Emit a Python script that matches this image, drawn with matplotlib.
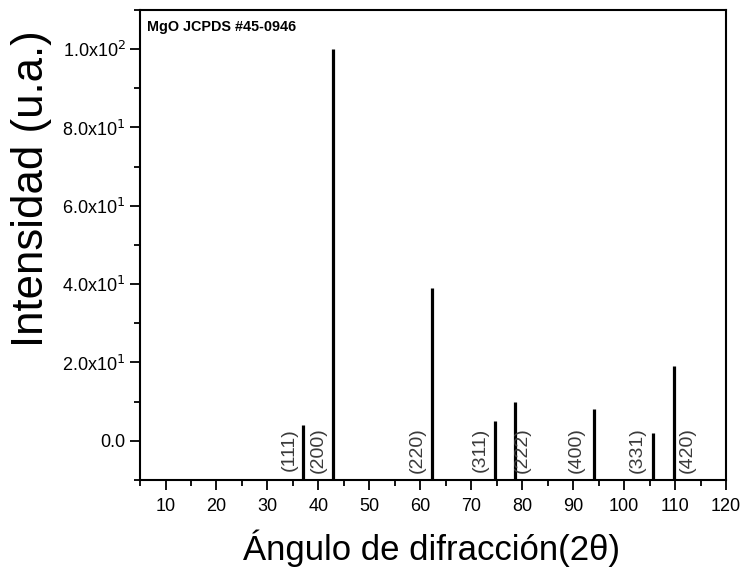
import numpy as np
import matplotlib
matplotlib.use('Agg')
import matplotlib.pyplot as plt
from matplotlib.ticker import MultipleLocator, FuncFormatter

plt.rcParams['font.family'] = ['Liberation Sans', 'DejaVu Sans']

# MgO JCPDS #45-0946 reflections
two_theta = [36.9, 42.9, 62.3, 74.7, 78.6, 94.0, 105.7, 109.8]
intensity = [4, 100, 39, 5, 10, 8, 2, 19]
hkl = ['(111)', '(200)', '(220)', '(311)', '(222)', '(400)', '(331)', '(420)']
label_x = [34.2, 40.0, 59.5, 71.7, 80.1, 90.6, 102.6, 112.3]

ymin = -10

fig = plt.figure(figsize=(7.45, 5.71), dpi=100)
ax = fig.add_axes([0.188, 0.1594, 0.7865, 0.8231])

ax.vlines(two_theta, ymin, intensity, colors='black', linewidth=2.3)
for x, lab in zip(label_x, hkl):
    ax.text(x, -2.3, lab, rotation=90, ha='center', va='center',
            fontsize=14, color='#3a3a3a')

ax.set_xlim(5, 120)
ax.set_ylim(ymin, 110)
ax.xaxis.set_major_locator(MultipleLocator(10))
ax.xaxis.set_minor_locator(MultipleLocator(5))
ax.yaxis.set_major_locator(MultipleLocator(20))
ax.yaxis.set_minor_locator(MultipleLocator(10))

def yfmt(v, pos):
    if abs(v) < 1e-9:
        return '0.0'
    e = int(np.floor(np.log10(abs(v))))
    m = v / 10**e
    return r'%.1fx10$^{%d}$' % (m, e)

ax.yaxis.set_major_formatter(FuncFormatter(yfmt))
ax.xaxis.set_major_formatter(FuncFormatter(lambda v, p: '%d' % v))
ax.tick_params(which='major', direction='out', length=7, width=1.3, labelsize=13)
ax.tick_params(which='minor', direction='out', length=4, width=1.3)
ax.tick_params(axis='x', which='major', pad=6)
ax.tick_params(axis='y', which='major', pad=3.5)
for s in ax.spines.values():
    s.set_linewidth(1.5)

ax.text(0.012, 0.979, 'MgO JCPDS #45-0946', transform=ax.transAxes,
        ha='left', va='top', fontsize=10.4, fontweight='bold')

ax.set_xlabel('Ángulo de difracción(2θ)', fontsize=25)
ax.xaxis.set_label_coords(0.497, -0.106)
ax.set_ylabel('Intensidad (u.a.)', fontsize=31.5)
ax.yaxis.set_label_coords(-0.15, 0.62)

fig.savefig('out.png', dpi=100)
